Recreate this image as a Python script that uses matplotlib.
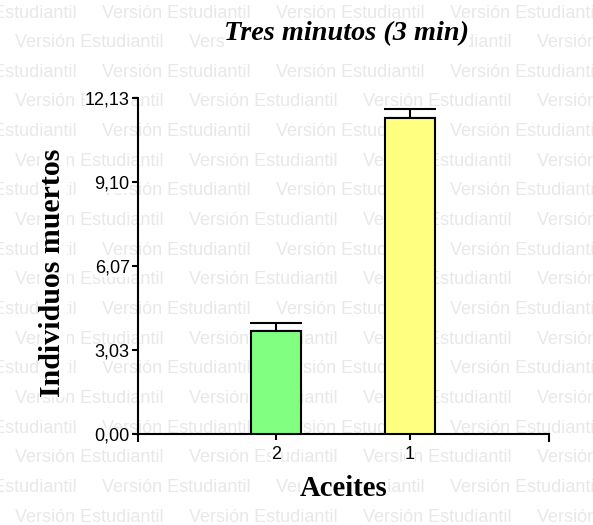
import matplotlib
matplotlib.use("Agg")
import matplotlib.pyplot as plt
from matplotlib.lines import Line2D

# ---- data ----
categories = ["2", "1"]
means = [3.72, 11.41]
errors = [0.29, 0.32]
bar_colors = ["#80ff80", "#ffff80"]
y_ticks = [0.0, 3.0325, 6.065, 9.0975, 12.13]
y_tick_labels = ["0,00", "3,03", "6,07", "9,10", "12,13"]
title = "Tres minutos (3 min)"
xlabel = "Aceites"
ylabel = "Individuos muertos"
watermark = "Versión Estudiantil"

W, H = 593, 525
fig = plt.figure(figsize=(W / 100, H / 100), dpi=100)
fig.patch.set_facecolor("white")

# watermark rows (background)
row_step = 29.65
col_step = 174
for i in range(18):
    yp = 13 + row_step * i
    x0 = -72 if i % 2 == 0 else 15
    xp = x0
    while xp < W:
        fig.text(xp / W, 1 - yp / H, watermark, ha="left", va="center",
                 fontsize=13, family="Liberation Sans", color="#e8e8e8", zorder=0)
        xp += col_step

# axes
left, right, bottom, top = 138, 549, 434, 98
ax = fig.add_axes([left / W, 1 - bottom / H, (right - left) / W, (bottom - top) / H])
ax.set_zorder(2)
ax.patch.set_visible(False)

x = list(range(len(categories)))
ax.bar(x, means, width=0.375, color=bar_colors, edgecolor="black", linewidth=1.5, zorder=3)
ax.errorbar(x, means, yerr=[[0] * len(errors), errors], fmt="none", ecolor="black",
            elinewidth=1.5, capsize=18.5, capthick=1.5, zorder=2)

ax.set_xlim(-1.03, 2.037)
ax.set_ylim(0, 12.13)
ax.set_yticks(y_ticks)
ax.set_yticklabels(y_tick_labels)
ax.set_xticks(x)
ax.set_xticklabels(categories)
for s in ["top", "right"]:
    ax.spines[s].set_visible(False)
for s in ["left", "bottom"]:
    ax.spines[s].set_linewidth(1.5)
ax.tick_params(axis="both", direction="out", length=4.5, width=1.5, labelsize=13)
ax.tick_params(axis="y", pad=1.5)
ax.tick_params(axis="x", pad=4)
for lab in ax.get_xticklabels() + ax.get_yticklabels():
    lab.set_family("Liberation Sans")
    lab.set_bbox(dict(facecolor="white", edgecolor="none", pad=0))

# end ticks on x axis
for xe in (left, right):
    fig.add_artist(Line2D([xe / W, xe / W], [1 - bottom / H, 1 - (bottom + 7) / H],
                          color="black", linewidth=1.5, zorder=3))

box = dict(facecolor="white", edgecolor="none", pad=0)
fig.text(346 / W, 1 - 34 / H, title, ha="center", va="center", fontsize=20.3,
         family="Liberation Serif", weight="bold", style="italic", bbox=box, zorder=3)
fig.text(344 / W, 1 - 489 / H, xlabel, ha="center", va="center", fontsize=20.7,
         family="Liberation Serif", weight="bold", bbox=box, zorder=3)
fig.text(53 / W, 1 - 273 / H, ylabel, ha="center", va="center", rotation=90, fontsize=21.5,
         family="Liberation Serif", weight="bold", bbox=box, zorder=3)

fig.savefig("out.png", dpi=100)
